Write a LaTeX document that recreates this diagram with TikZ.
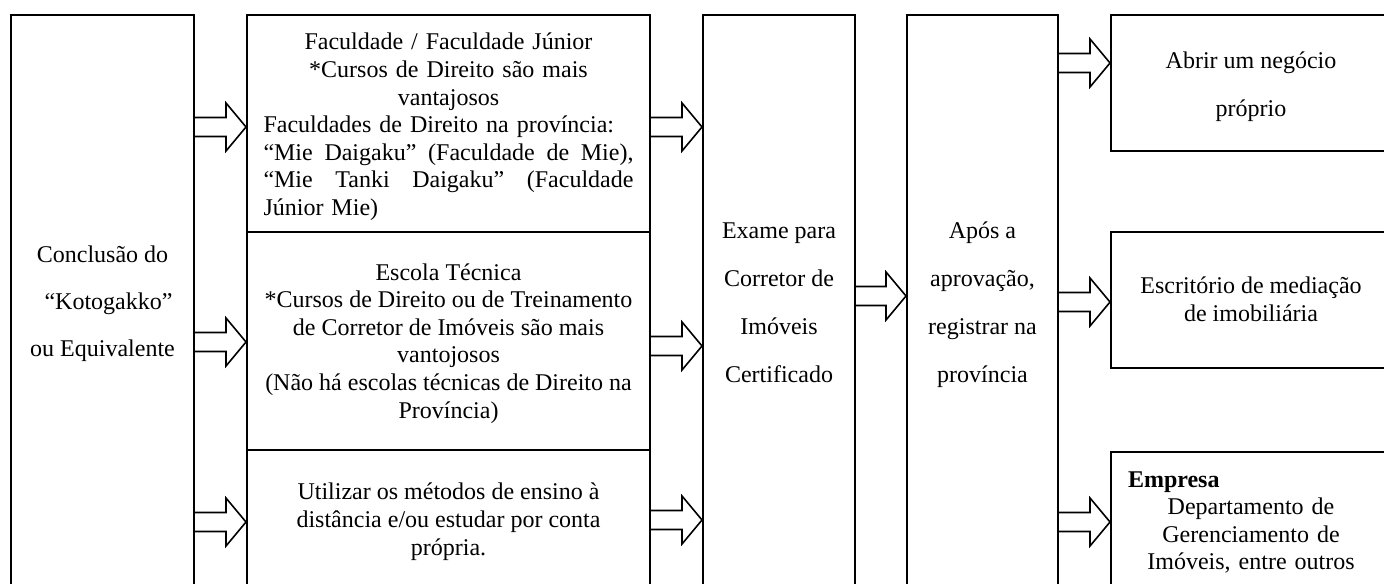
\documentclass[tikz,border=0pt]{standalone}
\usepackage{fontspec}
\setmainfont{Liberation Serif}
\usetikzlibrary{calc,fit}

% hollow block arrow between two boxes at a given height (px)
\newcommand{\blockarrow}[3]{%
  \coordinate (ba-y) at (0,#3);
  \coordinate (ba-s) at (#1.east |- ba-y);
  \coordinate (ba-t) at (#2.west |- ba-y);
  \draw[blockarr] ($(ba-s)+(0,-9.5)$) -- ($(ba-t)+(-20,-9.5)$) -- ($(ba-t)+(-20,-24)$) -- (ba-t)
    -- ($(ba-t)+(-20,24)$) -- ($(ba-t)+(-20,9.5)$) -- ($(ba-s)+(0,9.5)$);
}

\begin{document}
\begin{tikzpicture}[x=0.5pt, y=-0.5pt,
  box/.style={draw, line width=1pt, inner sep=0pt},
  txt/.style={align=center, inner sep=0pt, anchor=base, font=\fontsize{12}{13.8}\selectfont},
  widetxt/.style={txt, font=\fontsize{12}{24}\selectfont},
  blockarr/.style={draw, line width=0.8pt, line join=miter}
]
\path[use as bounding box] (0,0) rectangle (1384,583);
\clip (0,0) rectangle (1384,583);

\node[box, fit={(11,15) (194,600)}] (concl) {};
\node[box, fit={(247,15) (650,232)}] (fac) {};
\node[box, fit={(247,232) (650,450)}] (esc) {};
\node[box, fit={(247,450) (650,600)}] (util) {};
\node[box, fit={(703,15) (855,600)}] (exam) {};
\node[box, fit={(907,15) (1058,600)}] (apos) {};
\node[box, fit={(1111,15) (1391,151)}] (abrir) {};
\node[box, fit={(1111,232) (1391,368)}] (escr) {};
\node[box, fit={(1111,452) (1391,600)}] (empr) {};

% text nodes: base = last baseline (first one with text width)
\node[txt, font=\fontsize{12}{23.5}\selectfont] (conclt) at (102.5,356)
  {Conclusão do\\ \hspace{6pt}“Kotogakko”\\ ou Equivalente};
\node[txt, text width=185pt] (fact) at (448.5,50) {%
  Faculdade / Faculdade Júnior\\
  {*}Cursos de Direito são mais\\
  vantajosos\\
  \makebox[185pt][l]{Faculdades de Direito na província:}\\
  \makebox[185pt][l]{“Mie\hfill Daigaku”\hfill (Faculdade\hfill de\hfill Mie),}\\
  \makebox[185pt][l]{“Mie\hfill Tanki\hfill Daigaku”\hfill (Faculdade}\\
  \makebox[185pt][l]{Júnior Mie)}};
\node[txt] (esct) at (448.5,418)
  {Escola Técnica\\ {*}Cursos de Direito ou de Treinamento\\ de Corretor de Imóveis são mais\\
   vantojosos\\ (Não há escolas técnicas de Direito na\\ Província)};
\node[txt] (utilt) at (448.5,555)
  {Utilizar os métodos de ensino à\\ distância e/ou estudar por conta\\ própria.};
\node[widetxt] (examt) at (779,382) {Exame para\\ Corretor de\\ Imóveis\\ Certificado};
\node[widetxt] (apost) at (982.5,382) {Após a\\ aprovação,\\ registrar na\\ província};
\node[txt, font=\fontsize{12}{24.5}\selectfont] (abrirt) at (1251,117) {Abrir um negócio\\ próprio};
\node[txt, font=\fontsize{12}{14}\selectfont] (escrt) at (1251,321) {Escritório de mediação\\ de imobiliária};
\node[txt, text width=123pt] (emprt) at (1251,487) {%
  \makebox[123pt][l]{\bfseries Empresa}\\
  Departamento de\\ Gerenciamento de\\ Imóveis, entre outros};

\foreach \src/\dst/\yy in {concl/fac/127, concl/esc/342, concl/util/522,
    fac/exam/127, esc/exam/346, util/exam/520, exam/apos/296,
    apos/abrir/63, apos/escr/302, apos/empr/522}
  \blockarrow{\src}{\dst}{\yy};

\end{tikzpicture}
\end{document}
